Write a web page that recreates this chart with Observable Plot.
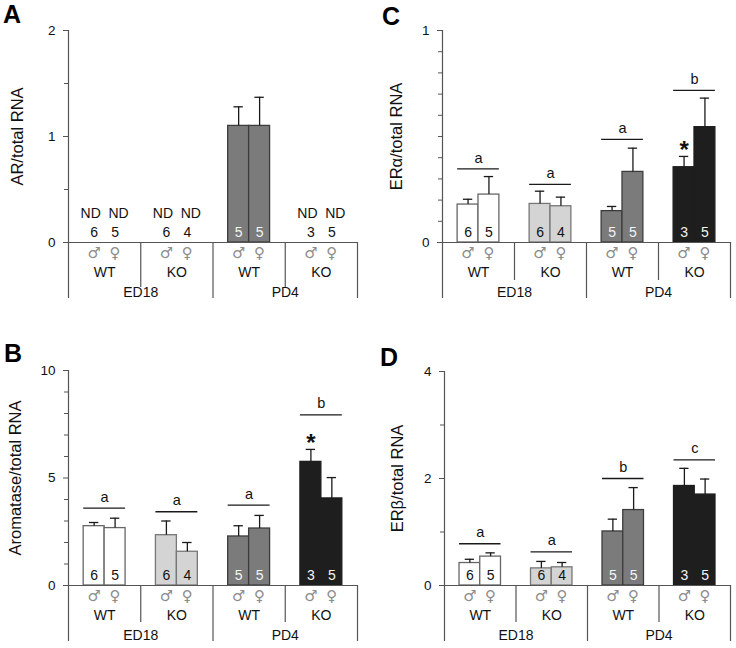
<!DOCTYPE html>
<html><head><meta charset="utf-8">
<script src="https://cdn.jsdelivr.net/npm/d3@7"></script>
<script src="https://cdn.jsdelivr.net/npm/@observablehq/plot@0.6"></script>
<style>
body{margin:0;background:#fff;}
#root{position:relative;width:736px;height:648px;overflow:hidden;font-family:Arial,"Liberation Sans",sans-serif;background:#fff;}
.panel{position:absolute;}
</style></head><body><div id="root"></div>
<script>
// ---- data ----
const ages = ["ED18", "PD4"];
const genotypes = ["WT", "KO", "WT", "KO"];
const sexes = ["♂", "♀"];
const counts = [6, 5, 6, 4, 5, 5, 3, 5];

const arMean = [null, null, null, null, 1.10, 1.10, null, null];
const arSem  = [null, null, null, null, 0.18, 0.27, null, null];

const eraMean = [0.179, 0.226, 0.182, 0.171, 0.148, 0.333, 0.355, 0.544];
const eraSem  = [0.025, 0.085, 0.060, 0.043, 0.022, 0.112, 0.051, 0.137];
const eraSigY = [0.347, 0.274, 0.486, 0.718];
const eraSig  = ["a", "a", "a", "b"];

const aroMean = [2.76, 2.67, 2.34, 1.57, 2.28, 2.65, 5.75, 4.05];
const aroSem  = [0.17, 0.46, 0.66, 0.43, 0.50, 0.61, 0.58, 0.97];
const aroSigY = [3.60, 3.43, 3.74, 7.94];
const aroSig  = ["a", "a", "a", "b"];

const erbMean = [0.42, 0.54, 0.32, 0.34, 1.01, 1.41, 1.86, 1.70];
const erbSem  = [0.07, 0.07, 0.13, 0.09, 0.23, 0.42, 0.33, 0.29];
const erbSigY = [0.78, 0.63, 2.00, 2.35];
const erbSig  = ["a", "a", "b", "c"];

// ---- styling / layout ----
const groupFill   = ["#ffffff", "#d4d4d4", "#7b7b7b", "#1e1e1e"];
const groupStroke = ["#666666", "#777777", "#3c3c3c", "#1e1e1e"];
const countFill   = ["#111111", "#111111", "#f4f4f4", "#f4f4f4"];
const axisColor = "#555555";
const ink = "#1a1a1a";
const BW = 0.29;     // bar width in group units
const CAP = 0.065;   // half cap width in group units
const FONT = "Arial, 'Liberation Sans', sans-serif";

const panels = [
  {id: "A", left: 0, top: 0, mL: 68, mR: 11, top0: 30, zero: 242, below: 56, inner: 45, ymax: 2,
   major: [0, 1, 2], minor: [0.5, 1.5], label: "AR/total RNA", labelDx: -51,
   mean: arMean, sem: arSem, sigY: null, sig: null, star: null},
  {id: "C", left: 368, top: 0, mL: 74, mR: 6, top0: 30, zero: 242, below: 56, inner: 38, ymax: 1,
   major: [0, 1], minor: [0.1, 0.2, 0.3, 0.4, 0.5, 0.6, 0.7, 0.8, 0.9], label: "ERα/total RNA", labelDx: -46,
   mean: eraMean, sem: eraSem, sigY: eraSigY, sig: eraSig, star: 6},
  {id: "B", left: 0, top: 324, mL: 68, mR: 11, top0: 46, zero: 261, below: 56, inner: 37, ymax: 10,
   major: [0, 5, 10], minor: [1, 2, 3, 4, 6, 7, 8, 9], label: "Aromatase/total RNA", labelDx: -53,
   mean: aroMean, sem: aroSem, sigY: aroSigY, sig: aroSig, star: 6},
  {id: "D", left: 368, top: 324, mL: 76, mR: 6, top0: 47, zero: 261, below: 56, inner: 37, ymax: 4,
   major: [0, 2, 4], minor: [1, 3], label: "ERβ/total RNA", labelDx: -47,
   mean: erbMean, sem: erbSem, sigY: erbSigY, sig: erbSig, star: null}
];

const root = document.getElementById("root");

for (const p of panels) {
  const bars = counts.map((n, i) => {
    const g = Math.floor(i / 2), s = i % 2;
    const xc = g + 0.5 + (s ? BW / 2 : -BW / 2);
    return {i, g, s, n, xc, x1: s ? g + 0.5 : g + 0.5 - BW, x2: s ? g + 0.5 + BW : g + 0.5,
            mean: p.mean[i], sem: p.sem[i]};
  });
  const present = bars.filter(d => d.mean != null);
  const missing = bars.filter(d => d.mean == null);
  const lo = p.ymax * p.below / (p.zero - p.top0);
  const innerLo = p.ymax * p.inner / (p.zero - p.top0);
  const grp = genotypes.map((t, g) => ({g, t}));
  const ageData = ages.map((t, k) => ({k, t}));

  const marks = [
    // bars
    Plot.rectY(present, {x1: "x1", x2: "x2", y1: () => 0, y2: "mean",
      fill: d => groupFill[d.g], stroke: d => groupStroke[d.g], strokeWidth: 1.3}),
    // error bars (upper only)
    Plot.ruleX(present, {x: "xc", y1: "mean", y2: d => d.mean + d.sem, stroke: ink, strokeWidth: 1.3}),
    Plot.ruleY(present, {x1: d => d.xc - CAP, x2: d => d.xc + CAP, y: d => d.mean + d.sem, stroke: ink, strokeWidth: 1.3}),
    // counts
    Plot.text(bars, {x: "xc", y: () => 0, text: d => String(d.n), dy: -10, fontSize: 14,
      fill: d => d.mean == null ? "#111111" : countFill[d.g]}),
    Plot.text(missing.filter(d => d.s === 0), {x: "xc", y: () => 0, text: () => "ND", dy: -29, dx: -3.5, fontSize: 14, fill: "#111111"}),
    Plot.text(missing.filter(d => d.s === 1), {x: "xc", y: () => 0, text: () => "ND", dy: -29, dx: 3.5, fontSize: 14, fill: "#111111"}),
    // axes
    Plot.ruleX([0], {x: d => d, y1: () => -lo, y2: () => p.ymax, stroke: axisColor, strokeWidth: 1.2}),
    Plot.ruleY([0], {y: d => d, x1: () => 0, x2: () => 4, stroke: axisColor, strokeWidth: 1.2}),
    Plot.ruleX([2, 4], {x: d => d, y1: () => 0, y2: () => -lo, stroke: axisColor, strokeWidth: 1.2}),
    Plot.ruleX([1, 3], {x: d => d, y1: () => 0, y2: () => -innerLo, stroke: axisColor, strokeWidth: 1.2}),
    Plot.axisY(p.major, {tickSize: 5, tickPadding: 8, fontSize: 13.5, label: null, tickFormat: d => String(d),
      stroke: axisColor, fill: "#111111"}),
    Plot.axisY(p.minor, {tickSize: 4, tickFormat: () => "", label: null, stroke: axisColor}),
    // y label
    Plot.text([p.label], {x: () => 0, y: () => p.ymax / 2, text: d => d, rotate: -90, dx: p.labelDx,
      fontSize: 16.5, fill: "#111111"}),
    // category labels below axis
    Plot.text(bars, {x: "xc", y: () => 0, text: d => sexes[d.s], dy: 11, fontSize: 15,
      fontFamily: "'DejaVu Sans', sans-serif", fill: "#8c8c8c"}),
    Plot.text(grp, {x: d => d.g + 0.5, y: () => 0, text: "t", dy: 30, fontSize: 14, fill: "#111111"}),
    Plot.text(ageData, {x: d => 2 * d.k + 1, y: () => 0, text: "t", dy: 50, fontSize: 14, fill: "#111111"})
  ];
  if (p.sig) {
    const sigData = p.sig.map((t, g) => ({g, t, y: p.sigY[g]}));
    marks.push(
      Plot.ruleY(sigData, {x1: d => d.g + 0.5 - BW, x2: d => d.g + 0.5 + BW, y: "y", stroke: ink, strokeWidth: 1.3}),
      Plot.text(sigData, {x: d => d.g + 0.5, y: "y", text: "t", dy: -11, fontSize: 14.5, fill: "#111111"})
    );
  }
  if (p.star != null) {
    const sb = bars[p.star];
    marks.push(Plot.text([sb], {x: "xc", y: d => d.mean + d.sem, text: () => "*", dy: -6,
      fontSize: 24, fontWeight: "bold", fill: "#111111"}));
  }

  const chart = Plot.plot({
    width: 368,
    height: 324,
    marginLeft: p.mL,
    marginRight: p.mR,
    marginTop: p.top0,
    marginBottom: 324 - p.zero - p.below,
    x: {type: "linear", domain: [0, 4], axis: null},
    y: {type: "linear", domain: [-lo, p.ymax], axis: null},
    color: {type: "identity"},
    style: {fontFamily: FONT, fontSize: "14px", background: "transparent", overflow: "visible", color: "#111"},
    marks
  });
  const wrap = document.createElement("div");
  wrap.className = "panel";
  wrap.style.left = p.left + "px";
  wrap.style.top = p.top + "px";
  wrap.appendChild(chart);
  root.appendChild(wrap);
}

// panel letters
const ns = "http://www.w3.org/2000/svg";
const overlay = document.createElementNS(ns, "svg");
overlay.setAttribute("width", 736);
overlay.setAttribute("height", 648);
overlay.style.position = "absolute";
overlay.style.left = "0";
overlay.style.top = "0";
overlay.style.pointerEvents = "none";
const letterPos = {A: [3, 23], C: [382, 25], B: [4, 362], D: [380, 366]};
for (const p of panels) {
  const t = document.createElementNS(ns, "text");
  t.setAttribute("x", letterPos[p.id][0]);
  t.setAttribute("y", letterPos[p.id][1]);
  t.setAttribute("font-family", FONT);
  t.setAttribute("font-size", "25");
  t.setAttribute("font-weight", "bold");
  t.setAttribute("fill", "#000");
  t.textContent = p.id;
  overlay.appendChild(t);
}
root.appendChild(overlay);
</script></body></html>
